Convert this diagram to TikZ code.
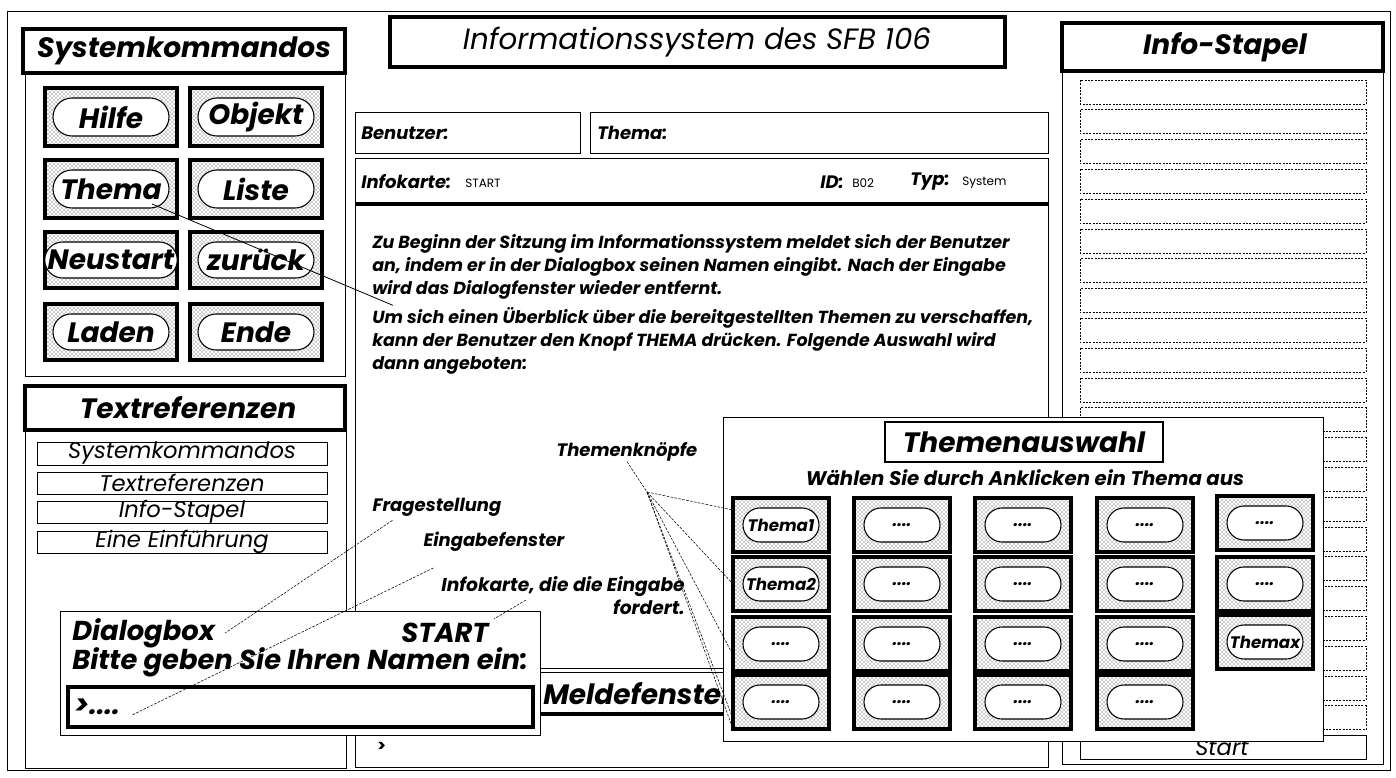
\documentclass[tikz,border=0pt]{standalone}
\usepackage{fontspec}
\setmainfont{Poppins}
\usetikzlibrary{patterns,calc,shapes.misc}
\newcommand{\fsz}[1]{\fontsize{#1}{#1}\selectfont}
\newcommand{\sysbtn}[6]{% name, x0, y0, x1, y1, text
  \node[btnouter, minimum width={(#4-#2)*0.75pt}, minimum height={(#5-#3)*0.75pt}] (#1) at ({(#2+#4)/2},{(#3+#5)/2}) {};
  \node[pill, font=\bfseries\itshape\fsz{21}, minimum width={(#4-#2-16)*0.75pt}, minimum height={(#5-#3-20)*0.75pt}] (#1-in) at (#1.center) {#6};
}
\newcommand{\thbtn}[4]{% name, x0, y0, text
  \node[btnouter, minimum width={96*0.75pt}, minimum height={54*0.75pt}] (#1) at ({#2+48},{#3+27}) {};
  \node[pill, minimum width={76*0.75pt}, minimum height={34*0.75pt}] (#1-in) at (#1.center) {#4};
}
\begin{document}
\begin{tikzpicture}[x=0.75pt,y=-0.75pt,
  thinbox/.style={draw=black, line width=0.7pt},
  hdrline/.style={draw=black, line width=2.4pt},
  btnouter/.style={draw=black, line width=3pt, pattern=crosshatch dots, pattern color=black!85, inner sep=0pt, outer sep=0pt},
  pill/.style={draw=black, fill=white, line width=0.8pt, rounded rectangle, inner sep=0pt, font=\bfseries\itshape\fsz{12.5}},
  hfont/.style={font=\bfseries\itshape\fsz{21}, inner sep=0pt},
  reffont/.style={font=\itshape\fsz{17}, inner sep=0pt},
  parfont/.style={font=\bfseries\itshape\fontsize{13.1}{17.25}\selectfont, align=left, inner sep=0pt, anchor=west},
  lblfont/.style={font=\bfseries\itshape\fsz{13.5}, inner sep=0pt, anchor=west},
  smallfont/.style={font=\fsz{9}, inner sep=0pt, anchor=west},
  notefont/.style={font=\bfseries\itshape\fsz{13.5}, inner sep=0pt},
  dlgfont/.style={font=\bfseries\itshape\fsz{20.5}, inner sep=0pt},
  dashbox/.style={draw=black, line width=0.5pt, dash pattern=on 1.5pt off 1pt},
  leader/.style={draw=black, line width=0.4pt, dash pattern=on 2pt off 1pt},
  solidleader/.style={draw=black, line width=0.6pt}]
\useasboundingbox (0,0) rectangle (1396,778);
\fill[white] (0,0) rectangle (1396,778);

% outer frame
\draw[thinbox] (7,11) rectangle (1390,770);

% ---------- left column ----------
\draw[hdrline] (23,29) rectangle (345,73);
\node[hfont] (sk) at (184,51) {Systemkommandos};
\draw[thinbox] (25,73) rectangle (345,376);
\sysbtn{hilfe}{45}{88}{177}{146}{Hilfe}
\sysbtn{objekt}{190}{88}{322}{146}{Objekt}
\sysbtn{thema}{45}{160}{177}{218}{Thema}
\sysbtn{liste}{190}{160}{322}{218}{Liste}
\sysbtn{neustart}{45}{232}{177}{288}{Neustart}
\sysbtn{zurueck}{190}{232}{322}{288}{zurück}
\sysbtn{laden}{45}{304}{177}{360}{Laden}
\sysbtn{ende}{190}{304}{322}{360}{Ende}

\draw[hdrline] (25,386) rectangle (345,430);
\node[hfont] (tr) at (188,408) {Textreferenzen};
\draw[thinbox] (25,430) rectangle (346,768);
\draw[thinbox] (37,442) rectangle (327,465);
\node[reffont] (r1) at (182,453.5) {Systemkommandos};
\draw[thinbox] (37,472) rectangle (327,494);
\node[reffont] (r2) at (182,483) {Textreferenzen};
\draw[thinbox] (37,501) rectangle (327,523);
\node[reffont] (r3) at (182,512) {Info-Stapel};
\draw[thinbox] (37,531) rectangle (327,553);
\node[reffont] (r4) at (182,542) {Eine Einführung};

% ---------- middle column ----------
\draw[hdrline] (390,17) rectangle (1005,67);
\node[font=\itshape\fsz{22}, inner sep=0pt] (title) at (697,42) {Informationssystem des SFB 106};
\draw[thinbox] (355,112) rectangle (580,153);
\node[lblfont] (ben) at (361,133) {Benutzer:};
\draw[thinbox] (590,112) rectangle (1048,153);
\node[lblfont] (thm) at (597,133) {Thema:};
\draw[thinbox] (355,158) rectangle (1048,668);
\draw[line width=2.4pt] (355,204) -- (1048,204);
\node[lblfont] (ik) at (361,182) {Infokarte:};
\node[smallfont] (ikv) at (465,183) {START};
\node[lblfont] (id) at (820,182) {ID:};
\node[smallfont] (idv) at (852,183) {B02};
\node[lblfont] (typ) at (910,182) {Typ:};
\node[smallfont] (typv) at (962,183) {System};
\node[parfont] (p1) at (372,267) {Zu Beginn der Sitzung im Informationssystem meldet sich der Benutzer\\
an, indem er in der Dialogbox seinen Namen eingibt. Nach der Eingabe\\
wird das Dialogfenster wieder entfernt.};
\node[parfont] (p2) at (372,341) {Um sich einen Überblick über die bereitgestellten Themen zu verschaffen,\\
kann der Benutzer den Knopf THEMA drücken. Folgende Auswahl wird\\
dann angeboten:};

\node[notefont] (tk) at (627,452) {Themenknöpfe};
\node[notefont] (frage) at (437,507) {Fragestellung};
\node[notefont] (eing) at (494,542) {Eingabefenster};
\node[font=\bfseries\itshape\fontsize{14}{17.25}\selectfont, inner sep=0pt, align=right] (ikl) at (563,596) {Infokarte, die die Eingabe\\ fordert.};

\draw[thinbox] (355,672) rectangle (1048,714);
\draw[line width=2.4pt] (355,714) -- (1048,714);
\node[hfont, anchor=west] (melde) at (543,694) {Meldefenster};
\draw[thinbox] (355,714) rectangle (1048,767);
\node[font=\bfseries\fsz{12}, inner sep=0pt, anchor=west] (mprompt) at (377,747) {>};

% ---------- right column ----------
\draw[hdrline] (1062,23) rectangle (1383,71);
\node[hfont] (is) at (1225,47) {Info-Stapel};
\draw[thinbox] (1062,71) rectangle (1383,764);
\foreach \i in {0,...,21} {
  \draw[dashbox] (1080,{80+29.8*\i}) rectangle (1366,{104+29.8*\i});
}
\draw[thinbox] (1080,735) rectangle (1366,759);
\node[reffont] (start) at (1222,748) {Start};

% ---------- dialog box ----------
\draw[thinbox, fill=white] (60,611) rectangle (540,735);
\node[dlgfont, anchor=west] (dtitle) at (72,633) {Dialogbox};
\node[dlgfont] (dstart) at (445,633) {START};
\node[dlgfont, anchor=west] (dask) at (72,662) {Bitte geben Sie Ihren Namen ein:};
\draw[line width=2.4pt] (68,687) rectangle (533,727);
\node[dlgfont, anchor=west] (dprompt) at (74,707) {>....};

% ---------- Themenauswahl window ----------
\draw[thinbox, fill=white] (723,417) rectangle (1323,741);
\draw[draw=black, line width=1pt] (885,422) rectangle (1163,462);
\node[hfont] (tatitle) at (1024,442) {Themenauswahl};
\node[font=\bfseries\itshape\fsz{14.8}, inner sep=0pt] (tasub) at (1025,478) {Wählen Sie durch Anklicken ein Thema aus};
\thbtn{b11}{733}{498}{Thema1}
\thbtn{b21}{733}{557}{Thema2}
\thbtn{b31}{733}{617}{....}
\thbtn{b41}{733}{675}{....}
\thbtn{b12}{854}{498}{....}
\thbtn{b22}{854}{557}{....}
\thbtn{b32}{854}{617}{....}
\thbtn{b42}{854}{675}{....}
\thbtn{b13}{975}{498}{....}
\thbtn{b23}{975}{557}{....}
\thbtn{b33}{975}{617}{....}
\thbtn{b43}{975}{675}{....}
\thbtn{b14}{1097}{498}{....}
\thbtn{b24}{1097}{557}{....}
\thbtn{b34}{1097}{617}{....}
\thbtn{b44}{1097}{675}{....}
\thbtn{b15}{1217}{496}{....}
\thbtn{b25}{1217}{557}{....}
\thbtn{b35}{1217}{615}{Themax}

% ---------- connectors ----------
\draw[solidleader] ($(thema.center)+(41,15)$) -- ($(p2.north west)+(21,-2)$);
\coordinate (fan) at (647,492);
\draw[leader] (tk.south) -- (fan);
\draw[leader] (fan) -- ($(b11.north west)+(0,12)$);
\draw[leader] (fan) -- (b21.west);
\draw[leader] (fan) -- ($(b31.south west)+(0,-16)$);
\draw[leader] (fan) -- ($(b41.south west)+(0,-10)$);
\draw[leader] (fan) -- (b41.south west);
\draw[leader] ($(frage.south west)+(20,4)$) -- ($(dtitle.east)+(10,0)$);
\draw[leader] ($(eing.south west)+(10,16)$) -- ($(dprompt.east)+(12,8)$);
\draw[leader] ($(ikl.west)+(85,4)$) -- ($(dstart.north east)+(5,-4)$);
\end{tikzpicture}
\end{document}
